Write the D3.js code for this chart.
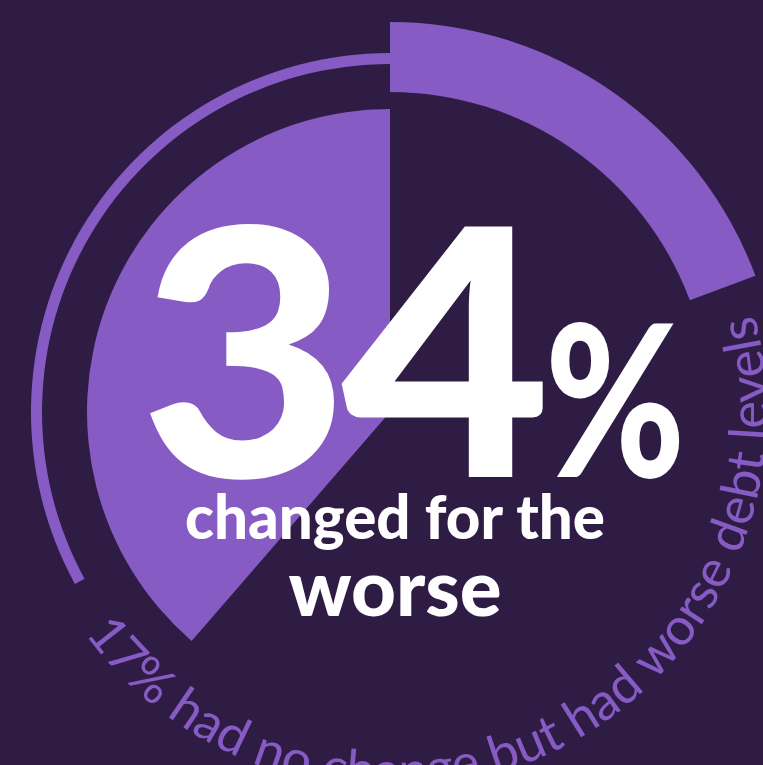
<!DOCTYPE html>
<html>
<head>
<meta charset="utf-8">
<script src="https://cdn.jsdelivr.net/npm/d3@7"></script>
<style>
  body { margin: 0; background: #2f1c45; }
</style>
</head>
<body>
<div class="canvas"></div>
<script>
const w = 763;
const h = 765;

// values (percent of respondents)
const headlineValue = 34;
const headlineLabel = ["changed for the", "worse"];
const sideValue = 17;
const sideLabel = "had no change but had worse debt levels";
const outlineValue = 29; // thin guide ring, no label

const purple = "#875bc4";
const bg = "#2f1c45";

const svg = d3.select(".canvas").append("svg").attr("width", w).attr("height", h);
svg.append("rect").attr("width", w).attr("height", h).attr("fill", bg);

// everything is centred on one point
const cx = 390, cy = 412;
const graph = svg.append("g").attr("transform", `translate(${cx}, ${cy})`);

// the graphic wraps a full turn at about 88%, not 100%
const angle = d3.scaleLinear().domain([0, 88]).range([0, 2 * Math.PI]);

// thin ring going back from 12 o'clock
graph.append("path")
  .attr("d", d3.arc().innerRadius(348).outerRadius(359)
    .startAngle(-angle(outlineValue)).endAngle(0)())
  .attr("fill", purple);

// thick band, 17%
graph.append("path")
  .attr("d", d3.arc().innerRadius(320).outerRadius(390)
    .startAngle(0).endAngle(angle(sideValue))())
  .attr("fill", purple);

// pie wedge, 34%
graph.append("path")
  .attr("d", d3.arc().innerRadius(0).outerRadius(303)
    .startAngle(-angle(headlineValue)).endAngle(0)())
  .attr("fill", purple);

// curved label round the bottom
const deg = Math.PI / 180;
const rText = 377;
const p = d3.path();
p.arc(0, 0, rText, (234 - 90) * deg, (75 - 90) * deg, true);
graph.append("path").attr("id", "labelPath").attr("d", p.toString()).attr("fill", "none");
const arcLen = rText * (234 - 75) * deg;

const labelText = `${sideValue}% ${sideLabel}`;
const curved = graph.append("text")
  .attr("font-family", "Lato, sans-serif")
  .attr("font-size", 48)
  .attr("fill", purple);
curved.append("textPath")
  .attr("href", "#labelPath")
  .text(labelText);
// fit the font to the arc
const len = curved.node().getComputedTextLength();
curved.attr("font-size", 48 * arcLen / len);

// headline number
graph.append("text")
  .attr("transform", `translate(${543 - cx}, ${477 - cy}) scale(1.05, 1)`)
  .attr("text-anchor", "end")
  .attr("font-family", "Lato, sans-serif")
  .attr("font-weight", 900)
  .attr("font-size", 345)
  .attr("letter-spacing", -8)
  .attr("fill", "#fff")
  .text(headlineValue);

graph.append("text")
  .attr("transform", `translate(${545 - cx}, ${477 - cy}) scale(0.8, 1)`)
  .attr("font-family", "Lato, sans-serif")
  .attr("font-weight", 900)
  .attr("font-size", 212)
  .attr("fill", "#fff")
  .text("%");

graph.append("text")
  .attr("x", 395 - cx)
  .attr("y", 539 - cy)
  .attr("text-anchor", "middle")
  .attr("font-family", "Lato, sans-serif")
  .attr("font-weight", 900)
  .attr("font-size", 60)
  .attr("fill", "#fff")
  .text(headlineLabel[0]);

graph.append("text")
  .attr("x", 395 - cx)
  .attr("y", 616 - cy)
  .attr("text-anchor", "middle")
  .attr("font-family", "Lato, sans-serif")
  .attr("font-weight", 900)
  .attr("font-size", 78)
  .attr("fill", "#fff")
  .text(headlineLabel[1]);
</script>
</body>
</html>
